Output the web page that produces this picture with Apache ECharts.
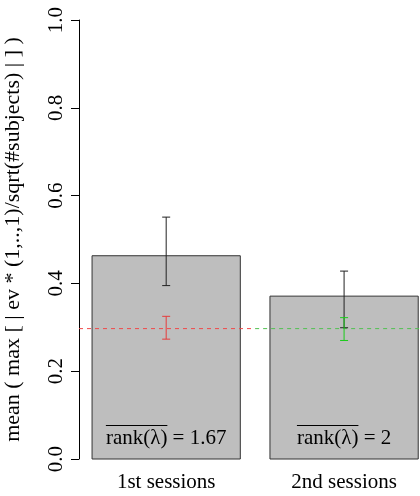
<!DOCTYPE html>
<html><head><meta charset="utf-8">
<script src="https://cdn.jsdelivr.net/npm/echarts@6/dist/echarts.min.js"></script>
<style>html,body{margin:0;padding:0;background:#fff}#c{width:420px;height:496px}</style>
</head><body><div id="c"></div>
<script>
const categories = ['1st sessions', '2nd sessions'];
const means = [0.463, 0.371];
const errLow = [0.395, 0.299];
const errHigh = [0.551, 0.428];
const nullLow = [0.273, 0.270];
const nullHigh = [0.325, 0.322];
const nullLevel = [0.297, 0.297];
const rankValues = ['1.67', '2'];
const yTicks = [0.0, 0.2, 0.4, 0.6, 0.8, 1.0];
const yTitle = 'mean ( max [ | ev * (1,..,1)/sqrt(#subjects) | ] )';

const FONT = 'Liberation Serif';
const FS = 21;
const centers = categories.map((_, i) => 0.7 + 1.2 * i);
const XMIN = 0.112, XMAX = 2.412, SPLIT = 1.3;

const chart = echarts.init(document.getElementById('c'));
const cvs = document.createElement('canvas').getContext('2d');
cvs.font = FS + 'px "' + FONT + '"';

const barData = categories.map((c, i) => [centers[i], means[i]]);
const errData = categories.map((c, i) => [centers[i], errLow[i], errHigh[i]]);
const nullErrData = categories.map((c, i) => [centers[i], nullLow[i], nullHigh[i]]);
const rankData = categories.map((c, i) => [centers[i], 0, rankValues[i]]);

function errItem(color) {
  return function (params, api) {
    const x = api.value(0);
    const lo = api.coord([x, api.value(1)]);
    const hi = api.coord([x, api.value(2)]);
    const w = 4;
    const st = { stroke: color, lineWidth: 1 };
    return { type: 'group', children: [
      { type: 'line', shape: { x1: lo[0], y1: lo[1], x2: hi[0], y2: hi[1] }, style: st },
      { type: 'line', shape: { x1: lo[0] - w, y1: lo[1], x2: lo[0] + w, y2: lo[1] }, style: st },
      { type: 'line', shape: { x1: hi[0] - w, y1: hi[1], x2: hi[0] + w, y2: hi[1] }, style: st }
    ]};
  };
}

chart.setOption({
  animation: false,
  grid: { left: 79, right: 0, top: 20, bottom: 37, outerBoundsMode: 'none', containLabel: false },
  xAxis: {
    type: 'value', min: XMIN, max: XMAX,
    axisLine: { show: false }, axisTick: { show: false }, splitLine: { show: false },
    axisLabel: {
      customValues: centers,
      formatter: v => { const i = centers.findIndex(c => Math.abs(c - v) < 1e-6); return i >= 0 ? categories[i] : ''; },
      color: '#000', fontFamily: FONT, fontSize: FS, margin: 13
    }
  },
  yAxis: {
    type: 'value', min: 0, max: 1, interval: 0.2,
    axisLine: { show: true, lineStyle: { color: '#000', width: 1 } },
    axisTick: { show: true, inside: false, length: 8, lineStyle: { color: '#000' } },
    splitLine: { show: false },
    axisLabel: {
      rotate: 90, color: '#000', fontFamily: FONT, fontSize: FS, margin: 12,
      formatter: v => v.toFixed(1)
    },
    name: yTitle, nameLocation: 'middle', nameGap: 55, nameRotate: 90,
    nameTextStyle: { color: '#000', fontFamily: FONT, fontSize: 22 }
  },
  series: [
    {
      type: 'custom', data: barData, z: 1,
      renderItem: (params, api) => {
        const x = api.value(0);
        const a = api.coord([x - 0.5, api.value(1)]);
        const b = api.coord([x + 0.5, 0]);
        return { type: 'rect', shape: { x: a[0], y: a[1], width: b[0] - a[0], height: b[1] - a[1] },
          style: { fill: '#BEBEBE', stroke: '#333', lineWidth: 1 } };
      }
    },
    {
      type: 'line', data: [[XMIN, nullLevel[0]], [SPLIT, nullLevel[0]]], symbol: 'none', z: 3,
      lineStyle: { color: '#F04848', width: 1, type: [4, 4] }
    },
    {
      type: 'line', data: [[SPLIT, nullLevel[1]], [XMAX, nullLevel[1]]], symbol: 'none', z: 3,
      lineStyle: { color: '#50C050', width: 1, type: [4, 4] }
    },
    { type: 'custom', data: errData, z: 4, renderItem: errItem('#222') },
    { type: 'custom', data: [nullErrData[0]], z: 5, renderItem: errItem('#E63C3C') },
    { type: 'custom', data: [nullErrData[1]], z: 5, renderItem: errItem('#1ACC1A') },
    {
      type: 'custom', data: rankData, z: 6,
      renderItem: (params, api) => {
        const x = api.value(0);
        const p = api.coord([x, api.value(1)]);
        const head = 'rank(λ)';
        const txt = head + ' = ' + api.value(2);
        const wAll = cvs.measureText(txt).width;
        const wHead = cvs.measureText(head).width;
        const left = p[0] - wAll / 2;
        const cy = p[1] - 21;
        return { type: 'group', children: [
          { type: 'text', style: { text: txt, x: p[0], y: cy, align: 'center', verticalAlign: 'middle',
              fill: '#000', font: FS + 'px "' + FONT + '"' } },
          { type: 'line', shape: { x1: left, y1: cy - 12.5, x2: left + wHead, y2: cy - 12.5 },
              style: { stroke: '#000', lineWidth: 1 } }
        ]};
      }
    }
  ]
});
</script></body></html>
